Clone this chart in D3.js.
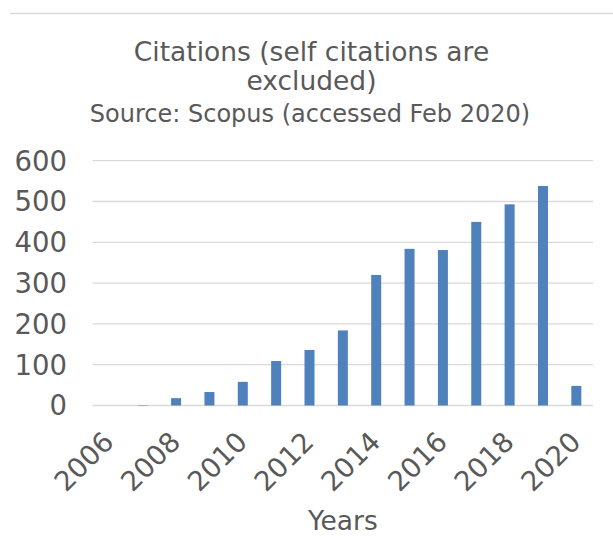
<!DOCTYPE html>
<html>
<head>
<meta charset="utf-8">
<script src="https://cdn.jsdelivr.net/npm/d3@7"></script>
<style>
  body { margin: 0; background: #fff; }
  text { font-family: "DejaVu Sans", Verdana, sans-serif; fill: #595959; }
</style>
</head>
<body>
<div id="chart"></div>
<script>
// Chart data
const years = ["2006", "2007", "2008", "2009", "2010", "2011", "2012", "2013",
               "2014", "2015", "2016", "2017", "2018", "2019", "2020"];
const citations = [0, 1, 18, 33, 58, 109, 136, 184, 320, 384, 381, 450, 493, 538, 48];
const yTicks = [0, 100, 200, 300, 400, 500, 600];
const xLabels = ["2006", "2008", "2010", "2012", "2014", "2016", "2018", "2020"];

const width = 613;
const height = 559;
const margin = { top: 160.7, right: 20, bottom: 153.5, left: 92.7 };

const svg = d3.select("#chart")
  .append("svg")
  .attr("width", width)
  .attr("height", height);

// Outer border line at top
svg.append("line")
  .attr("x1", 10).attr("x2", width)
  .attr("y1", 13.5).attr("y2", 13.5)
  .attr("stroke", "#d9d9d9")
  .attr("stroke-width", 1.3);

const x = d3.scaleBand()
  .domain(years)
  .range([margin.left, width - margin.right])
  .paddingInner(0.7)
  .paddingOuter(0.35);

const y = d3.scaleLinear()
  .domain([0, 600])
  .range([height - margin.bottom, margin.top]);

// Gridlines
svg.append("g")
  .selectAll("line")
  .data(yTicks)
  .enter()
  .append("line")
  .attr("x1", margin.left)
  .attr("x2", width - margin.right)
  .attr("y1", d => y(d))
  .attr("y2", d => y(d))
  .attr("stroke", "#d9d9d9")
  .attr("stroke-width", 1.3);

// Y labels
svg.append("g")
  .selectAll("text")
  .data(yTicks)
  .enter()
  .append("text")
  .attr("x", 67)
  .attr("y", d => y(d))
  .attr("dy", "0.36em")
  .attr("text-anchor", "end")
  .attr("font-size", "27.5px")
  .text(d => d);

// Bars
svg.append("g")
  .selectAll("rect")
  .data(citations)
  .enter()
  .append("rect")
  .attr("x", (d, i) => x(years[i]))
  .attr("y", d => y(d))
  .attr("width", x.bandwidth())
  .attr("height", d => y(0) - y(d))
  .attr("fill", "#4f81bd");

// X labels, rotated
svg.append("g")
  .selectAll("text")
  .data(xLabels)
  .enter()
  .append("text")
  .attr("transform", d => `translate(${x(d) + x.bandwidth() / 2 + 6},${y(0) + 38}) rotate(-45)`)
  .attr("text-anchor", "end")
  .attr("font-size", "27.5px")
  .text(d => d);

// Axis title
svg.append("text")
  .attr("x", (margin.left + width - margin.right) / 2)
  .attr("y", 530)
  .attr("text-anchor", "middle")
  .attr("font-size", "26.5px")
  .text("Years");

// Titles
svg.append("text")
  .attr("x", 311.5)
  .attr("y", 61)
  .attr("text-anchor", "middle")
  .attr("font-size", "26.5px")
  .text("Citations (self citations are");

svg.append("text")
  .attr("x", 311.5)
  .attr("y", 90)
  .attr("text-anchor", "middle")
  .attr("font-size", "26.5px")
  .text("excluded)");

svg.append("text")
  .attr("x", 310)
  .attr("y", 122)
  .attr("text-anchor", "middle")
  .attr("font-size", "24px")
  .text("Source: Scopus (accessed Feb 2020)");
</script>
</body>
</html>
